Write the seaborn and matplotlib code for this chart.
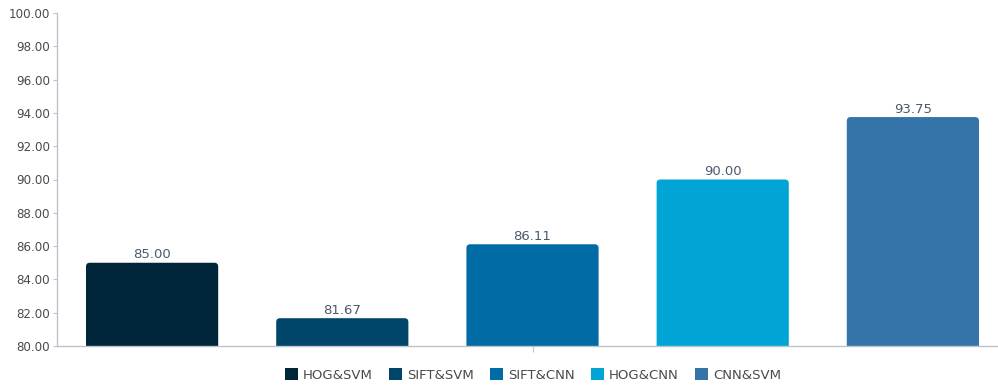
import matplotlib
matplotlib.use("Agg")
import matplotlib.pyplot as plt
import seaborn as sns
import pandas as pd
from matplotlib.patches import FancyBboxPatch

methods = ["HOG&SVM", "SIFT&SVM", "SIFT&CNN", "HOG&CNN", "CNN&SVM"]
accuracy = [85.00, 81.67, 86.11, 90.00, 93.75]
colors = ["#012639", "#00466A", "#006BA4", "#00A5D6", "#3574A9"]
yticks = [80, 82, 84, 86, 88, 90, 92, 94, 96, 98, 100]

sns.set_style("white")
plt.rcParams['font.family'] = ['DejaVu Sans']

df = pd.DataFrame({"group": ["all"] * len(methods), "method": methods, "acc": accuracy})

fig = plt.figure(figsize=(9.98, 3.88), dpi=100)
ax = fig.add_axes([57/998, 1 - 346/388, (1008 - 57)/998, (346 - 13)/388])

sns.barplot(data=df, x="group", y="acc", hue="method", hue_order=methods,
            palette=colors, width=1.0, gap=0.305, ax=ax, legend=False,
            saturation=1)

ax.set_ylim(80, 100)
ax.set_xlim(-0.5, 0.5)
ax.set_yticks(yticks)
ax.set_yticklabels([f"{v:.2f}" for v in yticks], fontsize=8.6, color="#4A4A4A")
ax.set_xlabel("")
ax.set_ylabel("")
ax.set_xticks([0], labels=[""])
ax.tick_params(axis="x", length=4, width=0.8, color="#B8C4CE", bottom=True,
               labelbottom=False)
ax.tick_params(axis="y", length=3, width=0.8, color="#B8C4CE", pad=2, left=True)
for s in ["top", "right"]:
    ax.spines[s].set_visible(False)
for s in ["left", "bottom"]:
    ax.spines[s].set_color("#B8C4CE")
    ax.spines[s].set_linewidth(1.0)

# rounded bar tops
for p in list(ax.patches):
    x, y = p.get_x(), p.get_y()
    w, h = p.get_width(), p.get_height()
    fc = p.get_facecolor()
    p.set_visible(False)
    fb = FancyBboxPatch((x, y), w, h,
                        boxstyle="round,pad=0,rounding_size=0.004",
                        mutation_aspect=20/0.12*(333/951),
                        facecolor=fc, edgecolor="none", zorder=2)
    ax.add_patch(fb)
    ax.text(x + w/2, y + h + 0.08, f"{y + h:.2f}", ha="center", va="bottom",
            fontsize=9.5, color="#4A5A6A")

handles = [plt.Rectangle((0, 0), 1, 1, facecolor=c, edgecolor="none") for c in colors]
fig.legend(handles, methods, loc="center", bbox_to_anchor=(533/998, 1 - 375/388),
           ncol=5, frameon=False, fontsize=9.5, handlelength=1.0, handleheight=1.0,
           handletextpad=0.35, columnspacing=1.25, labelcolor="#4A4A4A")

fig.savefig("out.png", dpi=100)
